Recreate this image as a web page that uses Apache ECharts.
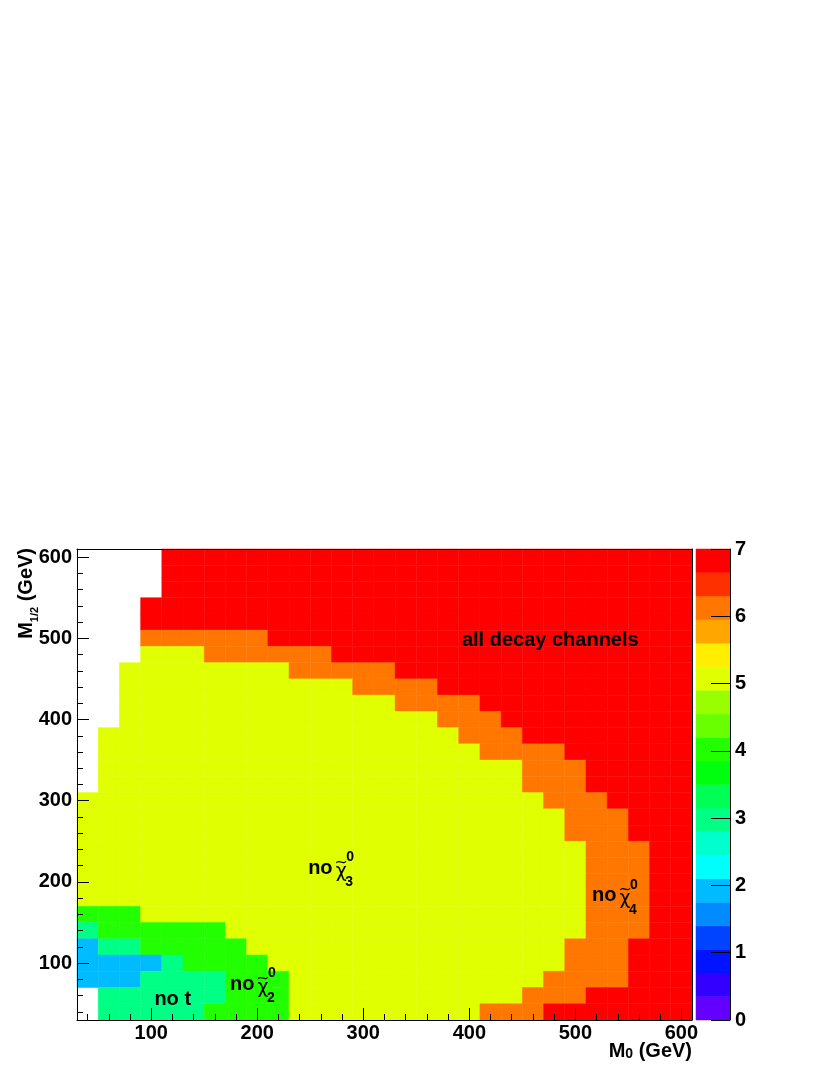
<!DOCTYPE html>
<html>
<head>
<meta charset="utf-8">
<title>decay channels vs M0 / M1/2</title>
<script src="https://cdn.jsdelivr.net/npm/echarts@6/dist/echarts.min.js"></script>
<style>
  html, body { margin: 0; padding: 0; background: #fff; }
  #chart { width: 830px; height: 1075px; }
</style>
</head>
<body>
<div id="chart"></div>
<script>
// bin centres in GeV (20 GeV bins, 30 .. 610)
var m0Centers = [40, 60, 80, 100, 120, 140, 160, 180, 200, 220, 240, 260, 280, 300, 320,
                 340, 360, 380, 400, 420, 440, 460, 480, 500, 520, 540, 560, 580, 600];
// rows listed from the top of the plot down
var m12Centers = [600, 580, 560, 540, 520, 500, 480, 460, 440, 420, 400, 380, 360, 340, 320,
                  300, 280, 260, 240, 220, 200, 180, 160, 140, 120, 100, 80, 60, 40];
var binHalf = 10;

// number of open channels per cell, as runs [value, count] along M0 (null = empty)
var channelRuns = [
  [[null, 4], [7, 25]],                                   // 590-610
  [[null, 4], [7, 25]],                                   // 570
  [[null, 4], [7, 25]],                                   // 550
  [[null, 3], [7, 26]],                                   // 530
  [[null, 3], [7, 26]],                                   // 510
  [[null, 3], [6, 6], [7, 20]],                           // 490
  [[null, 3], [5, 3], [6, 6], [7, 17]],                   // 470
  [[null, 2], [5, 8], [6, 5], [7, 14]],                   // 450
  [[null, 2], [5, 11], [6, 4], [7, 12]],                  // 430
  [[null, 2], [5, 13], [6, 4], [7, 10]],                  // 410
  [[null, 2], [5, 15], [6, 3], [7, 9]],                   // 390
  [[null, 1], [5, 17], [6, 3], [7, 8]],                   // 370
  [[null, 1], [5, 18], [6, 4], [7, 6]],                   // 350
  [[null, 1], [5, 20], [6, 3], [7, 5]],                   // 330
  [[null, 1], [5, 20], [6, 3], [7, 5]],                   // 310
  [[5, 22], [6, 3], [7, 4]],                              // 290
  [[5, 23], [6, 3], [7, 3]],                              // 270
  [[5, 23], [6, 3], [7, 3]],                              // 250
  [[5, 24], [6, 3], [7, 2]],                              // 230
  [[5, 24], [6, 3], [7, 2]],                              // 210
  [[5, 24], [6, 3], [7, 2]],                              // 190
  [[5, 24], [6, 3], [7, 2]],                              // 170
  [[4, 3], [5, 21], [6, 3], [7, 2]],                      // 150
  [[3, 1], [4, 6], [5, 17], [6, 3], [7, 2]],              // 130
  [[2, 1], [3, 2], [4, 5], [5, 15], [6, 3], [7, 3]],      // 110
  [[2, 4], [3, 1], [4, 4], [5, 14], [6, 3], [7, 3]],      // 90
  [[2, 3], [3, 4], [4, 3], [5, 12], [6, 4], [7, 3]],      // 70
  [[null, 1], [3, 6], [4, 3], [5, 11], [6, 3], [7, 5]],   // 50
  [[null, 1], [3, 5], [4, 4], [5, 9], [6, 3], [7, 7]]     // 30
];

var majorTicks = [100, 200, 300, 400, 500, 600];
var minorTicks = [40, 60, 80, 100, 120, 140, 160, 180, 200, 220, 240, 260, 280, 300, 320, 340,
                  360, 380, 400, 420, 440, 460, 480, 500, 520, 540, 560, 580, 600];

// colour scale: 20 contour levels between 0 and 7
var paletteBounds = [0, 0.35, 0.7, 1.05, 1.4, 1.75, 2.1, 2.45, 2.8, 3.15, 3.5,
                     3.85, 4.2, 4.55, 4.9, 5.25, 5.6, 5.95, 6.3, 6.65, 7];
var paletteColors = ['#6300ff', '#3300ff', '#0014ff', '#0044ff', '#008bff', '#00bbff', '#00fffc',
                     '#00ffcc', '#00ff85', '#00ff55', '#00ff0e', '#22ff00', '#69ff00', '#99ff00',
                     '#e0ff00', '#ffee00', '#ffa700', '#ff7700', '#ff3000', '#ff0000'];

// text annotations: left edge and baseline, in data units
var labelSpots = [[393, 489], [103, 46.4], [248, 207.8], [515.8, 174.4], [174.3, 65]];
var labelTexts = ['all decay channels', 'no t', 'no', 'no', 'no'];
var labelChiIndex = [null, null, '3', '4', '2'];

var LS = '"Liberation Sans", Arial, sans-serif';
var DV = '"DejaVu Sans", sans-serif';

function levelColor(v) {
  for (var i = 0; i < paletteColors.length; i++) {
    if (v >= paletteBounds[i] && v < paletteBounds[i + 1]) return paletteColors[i];
  }
  return paletteColors[paletteColors.length - 1];
}

var cells = [];
channelRuns.forEach(function (runs, r) {
  var c = 0;
  runs.forEach(function (run) {
    for (var k = 0; k < run[1]; k++) {
      if (run[0] !== null) cells.push([m0Centers[c], m12Centers[r], run[0]]);
      c++;
    }
  });
});

var paletteData = [];
for (var i = 0; i < paletteColors.length; i++) {
  paletteData.push([paletteBounds[i], paletteBounds[i + 1], i]);
}

var labelData = labelSpots.map(function (p, k) { return [p[0], p[1], k]; });

function txt(str, x, y, size, weight, family, align) {
  return {
    type: 'text', x: x, y: y,
    style: {
      text: str, fontSize: size, fontWeight: weight, fontFamily: family,
      fill: '#000', align: align || 'left', verticalAlign: 'middle'
    }
  };
}

function renderCell(params, api) {
  var a = api.coord([api.value(0) - binHalf, api.value(1) + binHalf]);
  var b = api.coord([api.value(0) + binHalf, api.value(1) - binHalf]);
  var col = levelColor(api.value(2));
  return {
    type: 'rect',
    shape: { x: a[0], y: a[1], width: b[0] - a[0], height: b[1] - a[1] },
    style: { fill: col, stroke: col, lineWidth: 0.5 }
  };
}

function renderBand(params, api) {
  var a = api.coord([0, api.value(1)]);
  var b = api.coord([1, api.value(0)]);
  var col = paletteColors[api.value(2)];
  return {
    type: 'rect',
    shape: { x: a[0], y: a[1], width: b[0] - a[0], height: b[1] - a[1] },
    style: { fill: col, stroke: col, lineWidth: 0.5 }
  };
}

function renderLabel(params, api) {
  var p = api.coord([api.value(0), api.value(1)]);
  var k = api.value(2);
  var x0 = p[0], yb = p[1];
  var kids = [txt(labelTexts[k], x0, yb - 7, 20, 'bold', LS)];
  if (labelChiIndex[k]) {
    kids.push(txt('\u03c7', x0 + 27.5, yb - 4, 19, 'normal', DV));
    kids.push(txt('~', x0 + 33, yb - 13, 16, 'normal', DV, 'center'));
    kids.push(txt('0', x0 + 38, yb - 18, 14, 'bold', LS));
    kids.push(txt(labelChiIndex[k], x0 + 37, yb + 7, 14, 'bold', LS));
  }
  return { type: 'group', children: kids };
}

// measure helper for composed axis titles
var measureCtx = document.createElement('canvas').getContext('2d');
function compose(parts) {
  var x = 0, kids = [];
  parts.forEach(function (pt) {
    kids.push(txt(pt.text, x, pt.dy, pt.size, 'bold', LS));
    measureCtx.font = 'bold ' + pt.size + 'px ' + LS;
    x += measureCtx.measureText(pt.text).width;
  });
  return { children: kids, width: x };
}

var xTitle = compose([
  { text: 'M', size: 20, dy: -7 },
  { text: '0', size: 14, dy: -4 },
  { text: ' (GeV)', size: 20, dy: -7 }
]);
var yTitle = compose([
  { text: 'M', size: 20, dy: -7 },
  { text: '1/2', size: 11, dy: 1.5 },
  { text: ' (GeV)', size: 20, dy: -7 }
]);

var tickFont = { fontSize: 20, fontWeight: 'bold', fontFamily: LS, color: '#000' };
var black = { color: '#000', width: 1 };

function frameAxis(grid, pos, extra) {
  var ax = {
    gridIndex: grid, type: 'value', min: 30, max: 610, position: pos, z: 10,
    axisLine: { show: true, onZero: false, lineStyle: black },
    axisTick: { show: false }, axisLabel: { show: false }, splitLine: { show: false }
  };
  return Object.assign(ax, extra || {});
}

var chart = echarts.init(document.getElementById('chart'));
chart.setOption({
  animation: false,
  backgroundColor: '#fff',
  grid: [
    { left: 77, top: 549, width: 615, height: 471 },
    { left: 696, top: 549, width: 34, height: 471 }
  ],
  xAxis: [
    frameAxis(0, 'bottom', {
      axisTick: { show: true, inside: true, length: 12, customValues: majorTicks, lineStyle: black },
      axisLabel: Object.assign({ show: true, margin: 3, customValues: majorTicks }, tickFont)
    }),
    frameAxis(0, 'bottom', {
      axisLine: { show: false },
      axisTick: { show: true, inside: true, length: 6, customValues: minorTicks, lineStyle: black }
    }),
    frameAxis(0, 'top'),
    { gridIndex: 1, type: 'value', min: 0, max: 1, show: false }
  ],
  yAxis: [
    frameAxis(0, 'left', {
      axisTick: { show: true, inside: true, length: 12, customValues: majorTicks, lineStyle: black },
      axisLabel: Object.assign({ show: true, margin: 5, customValues: majorTicks }, tickFont)
    }),
    frameAxis(0, 'left', {
      axisLine: { show: false },
      axisTick: { show: true, inside: true, length: 6, customValues: minorTicks, lineStyle: black }
    }),
    frameAxis(0, 'right'),
    {
      gridIndex: 1, type: 'value', min: 0, max: 7, interval: 1, position: 'right', z: 10,
      axisLine: { show: true, onZero: false, lineStyle: black },
      axisTick: { show: true, inside: true, length: 19, lineStyle: black },
      axisLabel: Object.assign({ show: true, margin: 5 }, tickFont),
      splitLine: { show: false }
    }
  ],
  series: [
    {
      type: 'custom', name: 'channels', xAxisIndex: 0, yAxisIndex: 0,
      data: cells, renderItem: renderCell, silent: true, z: 2
    },
    {
      type: 'custom', name: 'labels', xAxisIndex: 0, yAxisIndex: 0,
      data: labelData, renderItem: renderLabel, silent: true, z: 5
    },
    {
      type: 'custom', name: 'palette', xAxisIndex: 3, yAxisIndex: 3,
      data: paletteData, renderItem: renderBand, silent: true, z: 2
    }
  ],
  graphic: [
    { type: 'group', x: 692 - xTitle.width, y: 1058, children: xTitle.children },
    { type: 'group', x: 33.3, y: 548 + yTitle.width, rotation: Math.PI / 2, children: yTitle.children }
  ]
});
</script>
</body>
</html>
